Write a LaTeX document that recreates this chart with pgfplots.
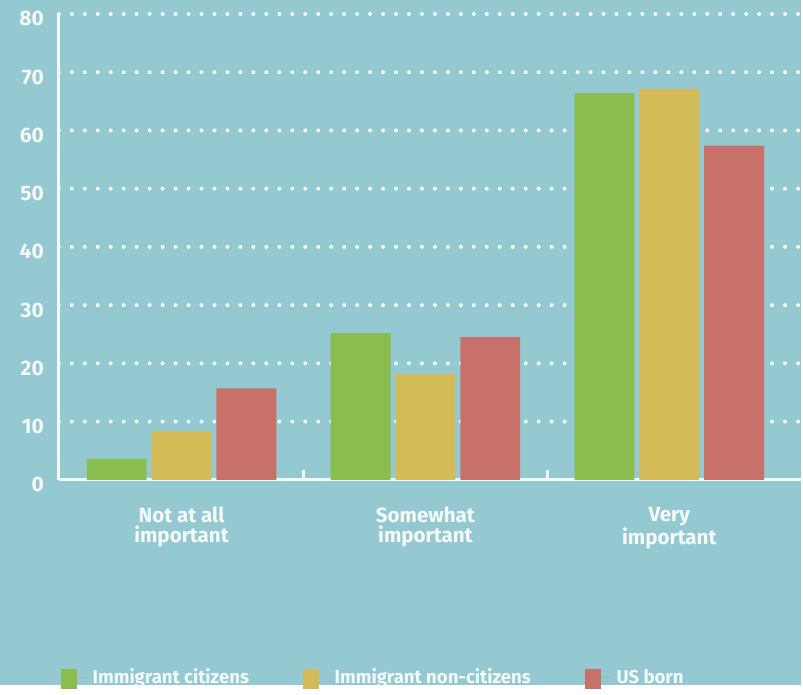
\documentclass[border=0pt]{standalone}
\usepackage{fontspec}
\setmainfont{Fira Sans}
\usepackage{pgfplots}
\pgfplotsset{compat=1.18}
\definecolor{bg}{HTML}{94C9D1}
\definecolor{cgreen}{HTML}{8BBC4E}
\definecolor{cyellow}{HTML}{D5BB57}
\definecolor{cred}{HTML}{C8716B}
\definecolor{ink}{HTML}{F4FAFA}

\begin{document}
\begin{tikzpicture}
\fill[bg] (0,0) rectangle (401.5pt,343.5pt);
\begin{axis}[
  at={(29.5pt,103pt)}, anchor=south west,
  scale only axis, width=372pt, height=233.5pt,
  xmin=-0.503, xmax=2.54, ymin=0, ymax=80,
  ybar=2.5pt, bar width=30pt,
  axis x line*=bottom, axis y line*=left,
  axis line style={ink, line width=1.5pt, -},
  ytick={10,20,...,80},
  extra y ticks={0}, extra y tick style={grid=none},
  xtick={0,1,2},
  xticklabels={{Not at all\\important},{Somewhat\\important},{Very\\important}},
  xticklabel style={align=center, font=\bfseries\fontsize{10.3}{10}\selectfont, text=ink, yshift=-10pt},
  yticklabel style={font=\bfseries\fontsize{10.5}{12}\selectfont, text=ink, xshift=-4pt, yshift=-2.5pt},
  /pgf/number format/assume math mode=true,
  major tick length=0pt,
  extra x ticks={0.5,1.5}, extra x tick labels={},
  extra x tick style={major tick length=5pt, tick style={ink, line width=1.5pt}, tick align=inside},
  ymajorgrids,
  grid style={ink, line width=2pt, line cap=round, dash pattern=on 0pt off 6.5pt},
  legend style={at={(-0.006,-0.4246)}, anchor=west, draw=none, fill=none,
    legend columns=3, font=\bfseries\fontsize{9.3}{10}\selectfont, text=ink,
    /tikz/every even column/.append style={column sep=25pt}},
  legend cell align=left,
  legend image code/.code={\path (0pt,0pt) -- (14pt,0pt);
    \fill[#1] (0pt,-5.5pt) rectangle (8pt,4.5pt);},
]
\addplot[fill=cgreen, draw=none] coordinates {(0,3.6) (1,25.2) (2,66.4)};
\addplot[fill=cyellow, draw=none] coordinates {(0,8.3) (1,18.2) (2,67.1)};
\addplot[fill=cred, draw=none] coordinates {(0,15.7) (1,24.5) (2,57.4)};
\legend{Immigrant citizens, Immigrant non-citizens, US born}
\end{axis}
\end{tikzpicture}
\end{document}
